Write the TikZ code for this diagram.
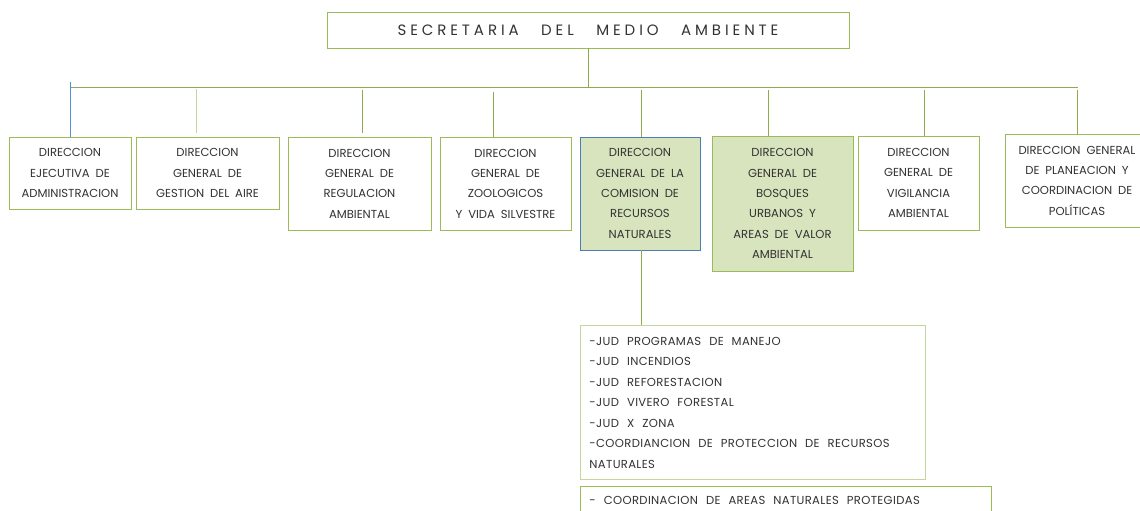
\documentclass[tikz,border=0pt]{standalone}
\usepackage{fontspec}
\setmainfont{Poppins}[WordSpace=1.9]
\newfontfamily\listfont{Poppins}[LetterSpace=3]
\newcommand\mylistspacing{\spaceskip=8pt plus 1pt\relax}
\usetikzlibrary{calc}
\definecolor{gborder}{HTML}{9BBB59}
\definecolor{gline}{HTML}{8FAA4E}
\definecolor{glight}{HTML}{C3D69B}
\definecolor{gfill}{HTML}{D7E4BD}
\definecolor{bborder}{HTML}{4A7EBB}
\definecolor{bline}{HTML}{4F8FD8}
\definecolor{txt}{HTML}{333333}
\tikzset{
  unitbox/.style={draw=gborder, line width=0.9pt, inner sep=0pt, align=center,
    font=\fontsize{11.6}{20.3}\selectfont, text=txt},
  greenbox/.style={unitbox, fill=gfill},
  bluebox/.style={unitbox, fill=gfill, draw=bborder},
  listbox/.style={draw=glight, line width=0.9pt, inner ysep=0pt, inner xsep=9pt, align=left,
    font=\listfont\fontsize{11.6}{20.5}\selectfont, text=txt,
    execute at begin node=\mylistspacing},
  conn/.style={draw=gline, line width=0.8pt},
}
\begin{document}
\begin{tikzpicture}[x=1pt,y=-1pt]
\clip (0,0) rectangle (1140,511);
\useasboundingbox (0,0) rectangle (1140,511);
\fill[white] (0,0) rectangle (1140,511);

\node[unitbox, minimum width=522pt, minimum height=36pt, font=\fontsize{15}{16}\selectfont\addfontfeature{LetterSpace=26}] (sec) at (588,30) {SECRETARIA\hspace{0.5em} DEL\hspace{0.5em} MEDIO\hspace{0.5em} AMBIENTE};

\node[unitbox, minimum width=122pt, minimum height=72pt] (d1) at (70,173) {DIRECCION\\EJECUTIVA DE\\ADMINISTRACION};
\node[unitbox, minimum width=143pt, minimum height=72pt] (d2) at (207.5,173) {DIRECCION\\GENERAL DE\\GESTION DEL AIRE};
\node[unitbox, minimum width=143pt, minimum height=93pt] (d3) at (359.5,183.5) {DIRECCION\\GENERAL DE\\REGULACION\\AMBIENTAL};
\node[unitbox, minimum width=131pt, minimum height=93pt] (d4) at (505.5,183.5) {DIRECCION\\GENERAL DE\\ZOOLOGICOS\\Y VIDA SILVESTRE};
\node[bluebox, minimum width=120pt, minimum height=113pt] (d5) at (640,193.5) {DIRECCION\\GENERAL DE LA\\COMISION DE\\RECURSOS\\NATURALES};
\node[greenbox, minimum width=141pt, minimum height=135pt] (d6) at (782.5,203.5) {DIRECCION\\GENERAL DE\\BOSQUES\\URBANOS Y\\AREAS DE VALOR\\AMBIENTAL};
\node[unitbox, minimum width=121pt, minimum height=94pt] (d7) at (918.5,183) {DIRECCION\\GENERAL DE\\VIGILANCIA\\AMBIENTAL};
\node[unitbox, minimum width=144pt, minimum height=93pt] (d8) at (1077,180.5) {DIRECCION GENERAL\\DE PLANEACION Y\\COORDINACION DE\\POLÍTICAS};

\node[listbox, minimum width=345pt, minimum height=154pt, text width=327pt, anchor=north west] (sub1) at (580,325) {-JUD PROGRAMAS DE MANEJO\\-JUD INCENDIOS\\-JUD REFORESTACION\\-JUD VIVERO FORESTAL\\-JUD X ZONA\\-COORDIANCION DE PROTECCION DE RECURSOS\\NATURALES};
\node[listbox, draw=gborder, minimum width=411pt, minimum height=28pt, text width=393pt, anchor=north west] (sub2) at (580,486) {- COORDINACION DE AREAS NATURALES PROTEGIDAS};

% bus
\coordinate (bl) at (70,87);
\coordinate (br) at (1078,87);
\draw[conn] (sec.south) -- (sec.south |- bl);
\draw[conn] (bl) -- (br);
\coordinate (t1) at (70,82);
\coordinate (t2) at (196,89);
\coordinate (t3) at (362,90);
\coordinate (t4) at (493,92);
\coordinate (t5) at (641,90);
\coordinate (t6) at (768,90);
\coordinate (t7) at (924,90);
\coordinate (t8) at (1077,90);
\draw[draw=bline, line width=0.9pt] (t1) -- (t1 |- d1.north);
\draw[conn, draw=glight] (t2) -- ($(t2 |- d2.north)+(0,-4)$);
\draw[conn] (t3) -- ($(t3 |- d3.north)+(0,-4)$);
\draw[conn] (t4) -- (t4 |- d4.north);
\draw[conn] (t5) -- (t5 |- d5.north);
\draw[conn] (t6) -- (t6 |- d6.north);
\draw[conn] (t7) -- (t7 |- d7.north);
\draw[conn] (t8) -- (t8 |- d8.north);
\draw[conn] (t5 |- d5.south) -- (t5 |- sub1.north);
\end{tikzpicture}
\end{document}
